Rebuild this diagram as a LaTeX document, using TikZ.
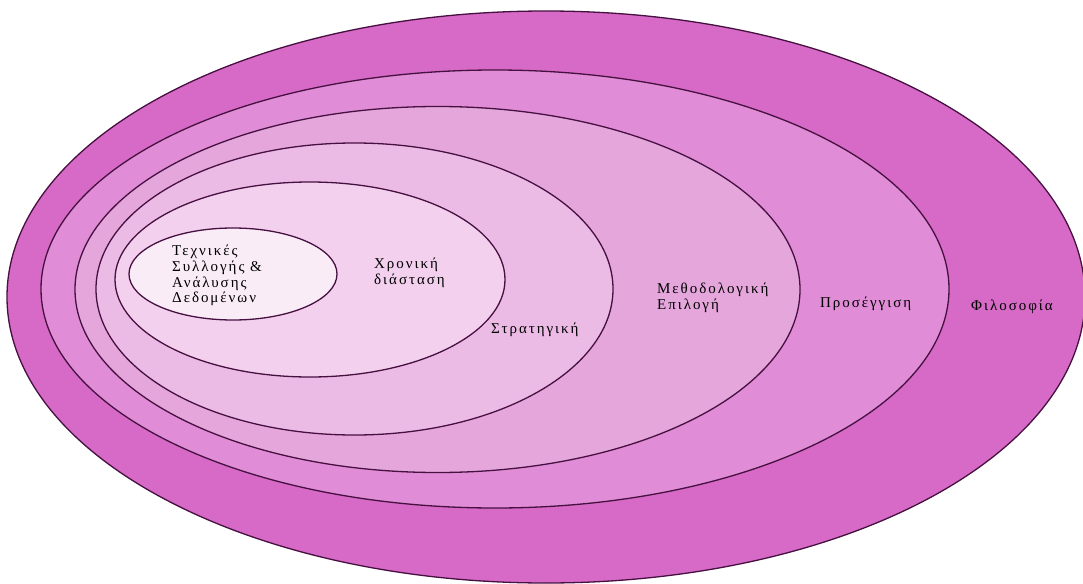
\documentclass[tikz,border=0pt]{standalone}
\usepackage{fontspec}
\setmainfont{Liberation Serif}
\newfontfamily\lblfont[LetterSpace=13]{Liberation Serif}
\definecolor{ringA}{RGB}{214,106,198}
\definecolor{ringB}{RGB}{224,140,214}
\definecolor{ringC}{RGB}{229,166,220}
\definecolor{ringD}{RGB}{236,187,229}
\definecolor{ringE}{RGB}{242,208,238}
\definecolor{ringF}{RGB}{249,236,247}
\definecolor{edgec}{RGB}{70,16,64}
\begin{document}
\begin{tikzpicture}[x=1pt,y=-1pt,
  ring/.style={draw=edgec,line width=1.3pt},
  lbl/.style={font=\lblfont\fontsize{15}{15.8}\selectfont,text=black,inner sep=0pt,anchor=west,align=left}]
\useasboundingbox (0,0) rectangle (1083,583);
\clip (0,0) rectangle (1083,583);
\fill[white] (0,0) rectangle (1083,583);
\draw[ring,fill=ringA] (546,297) ellipse [x radius=539pt,y radius=286pt];
\draw[ring,fill=ringB] (495,289) ellipse [x radius=454pt,y radius=219pt];
\draw[ring,fill=ringC] (437.5,289.5) ellipse [x radius=362.5pt,y radius=183pt];
\draw[ring,fill=ringD] (354.5,289) ellipse [x radius=258.5pt,y radius=146pt];
\draw[ring,fill=ringE] (310,279.5) ellipse [x radius=195pt,y radius=97.5pt];
\draw[ring,fill=ringF] (233,274) ellipse [x radius=104pt,y radius=46pt];
\node[lbl] (tech) at (172,275.5) {Τεχνικές\\Συλλογής \&\\Ανάλυσης\\Δεδομένων};
\node[lbl] (time) at (374,272.5) {Χρονική\\διάσταση};
\node[lbl] (strat) at (491,330) {Στρατηγική};
\node[lbl] (meth) at (657,297.5) {Μεθοδολογική\\Επιλογή};
\node[lbl] (appr) at (820,304) {Προσέγγιση};
\node[lbl] (phil) at (971,307) {Φιλοσοφία};
\end{tikzpicture}
\end{document}
